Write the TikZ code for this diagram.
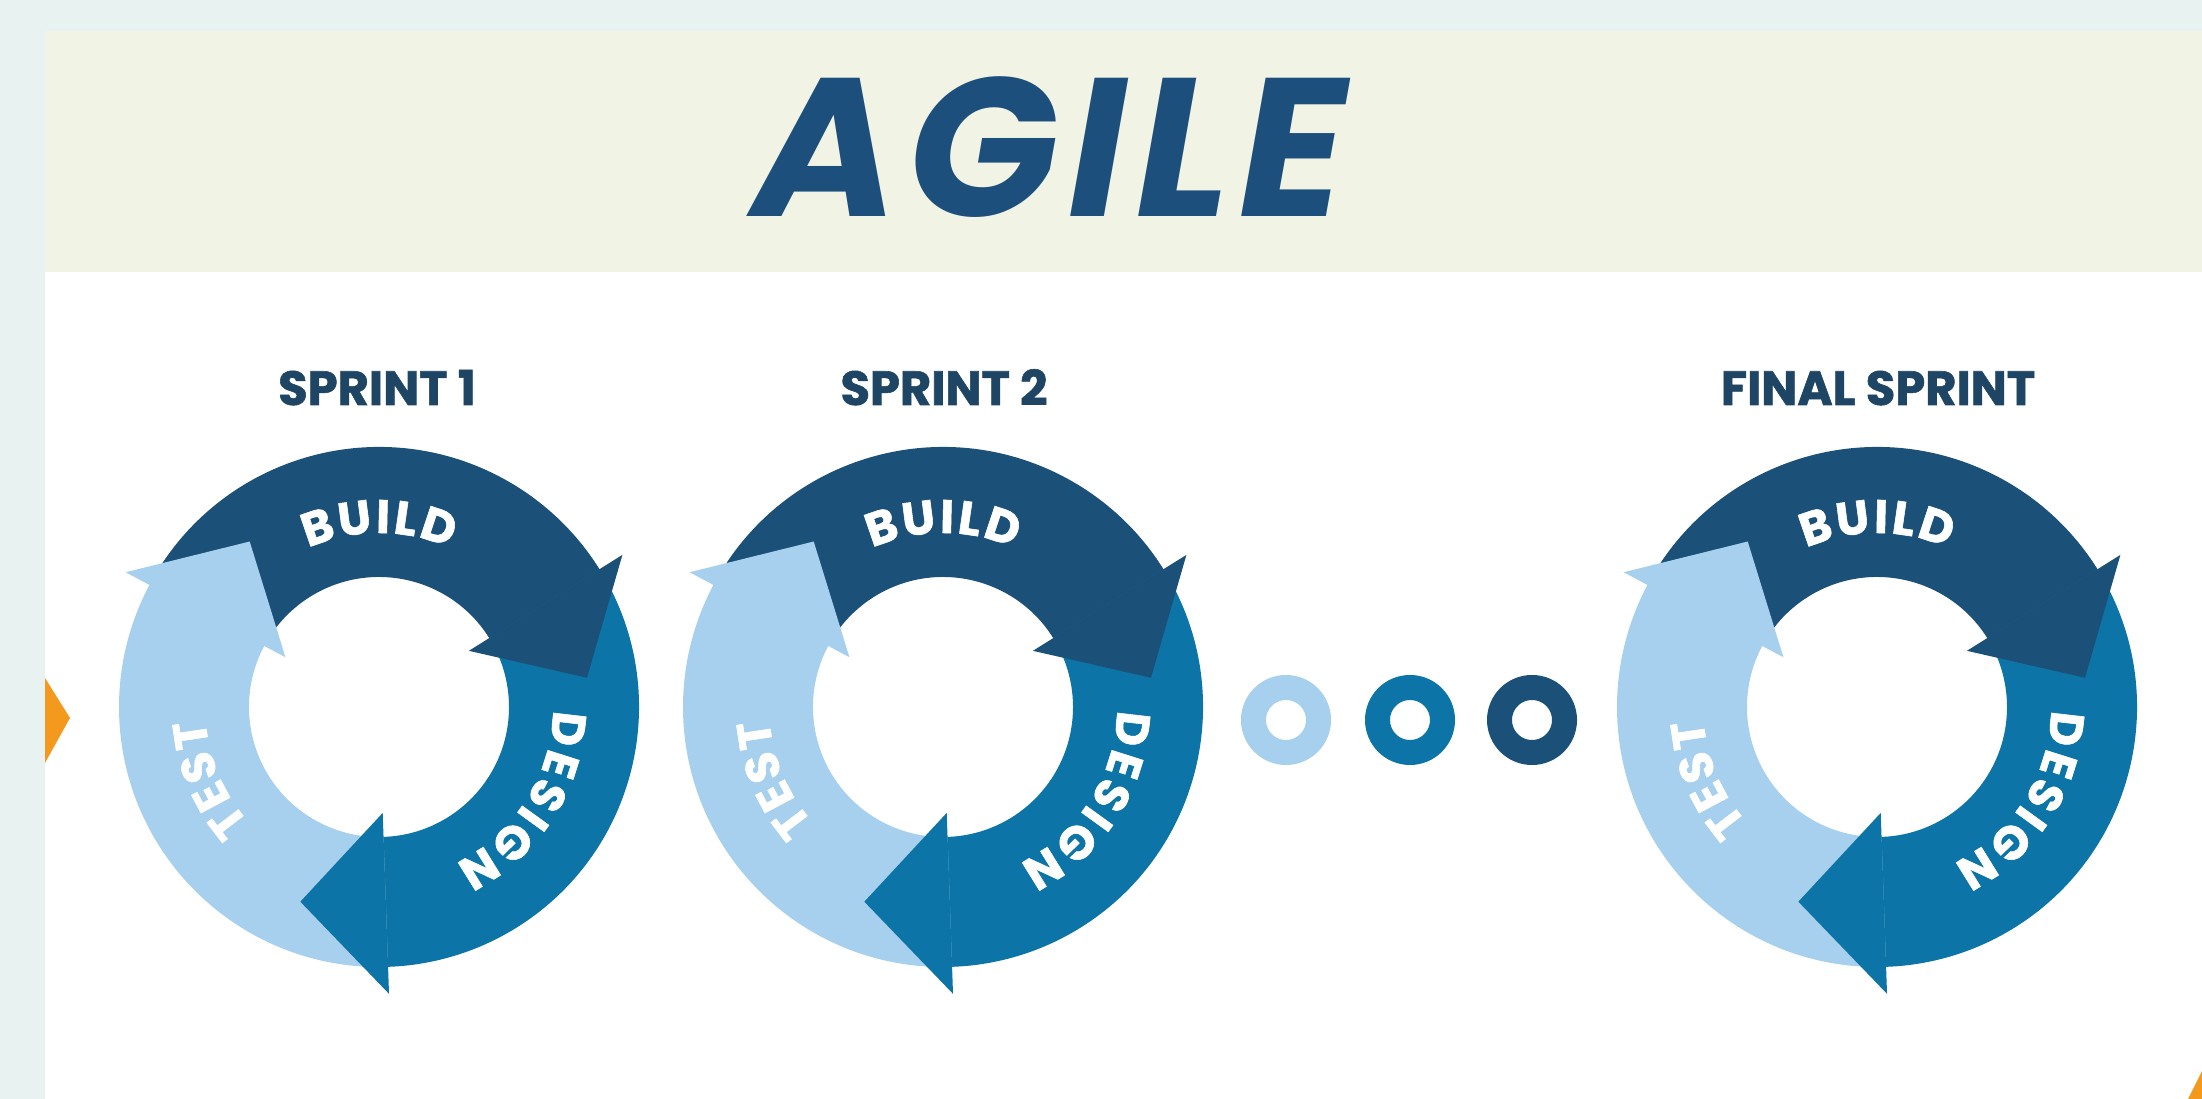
\documentclass[tikz,border=0pt]{standalone}
\usepackage{fontspec}
\newfontfamily\popfont{Poppins}[BoldFeatures={FakeBold=1.2}]
\newfontfamily\agilefont{Poppins}[LetterSpace=5]
\usetikzlibrary{decorations.text}
\definecolor{marginc}{HTML}{E8F2F1}
\definecolor{headc}{HTML}{F1F4E5}
\definecolor{buildc}{HTML}{1B5079}
\definecolor{designc}{HTML}{0C74A6}
\definecolor{testc}{HTML}{A6D0EE}
\definecolor{titlec}{HTML}{1C4F7C}
\definecolor{labelc}{HTML}{1E4664}
\definecolor{orangec}{HTML}{F39A1E}
\newcommand\arcfont{\popfont\bfseries\fontsize{47}{47}\selectfont}
\tikzset{
  sprintlabel/.style={font=\popfont\bfseries\fontsize{48}{48}\selectfont, text=labelc, anchor=base, inner sep=0pt},
  arctext/.style={decorate, decoration={text along path, text align={fit to path}, text color=white, text={|\arcfont|#1}}},
  dotring/.style={line width=25pt},
  sprintcycle/.pic={
    % bands
    \fill[buildc] (152:260) arc[start angle=152,end angle=31,radius=260] -- (31:130) arc[start angle=31,end angle=152,radius=130] -- cycle;
    \fill[designc] (32:260) arc[start angle=32,end angle=-89,radius=260] -- (-89:130) arc[start angle=-89,end angle=32,radius=130] -- cycle;
    \fill[testc] (-88:260) arc[start angle=-88,end angle=-209,radius=260] -- (-209:130) arc[start angle=-209,end angle=-88,radius=130] -- cycle;
    % heads
    \fill[buildc] (32:287) -- (8:210) -- (32:106) -- cycle;
    \fill[designc] (-88:287) -- (-112:210) -- (-88:106) -- cycle;
    \fill[testc] (152:287) -- (128:210) -- (152:106) -- cycle;
    % labels
    \path[arctext=BUILD] (114:174) arc[start angle=114,end angle=66,radius=174];
    \path[arctext=DESIGN] (-1:174) arc[start angle=-1,end angle=-64,radius=174];
    \path[arctext=TEST] (222:174) arc[start angle=222,end angle=184,radius=174];
  }
}
\begin{document}
\begin{tikzpicture}[x=1pt,y=1pt]
\useasboundingbox (0,0) rectangle (2202,1099);
\fill[marginc] (0,0) rectangle (2202,1099);
\fill[headc] (45,827) rectangle (2202,1068);
\fill[white] (45,0) rectangle (2202,827);
\fill[orangec] (45,421) -- (70,381) -- (45,336) -- cycle;
\fill[orangec] (2188,0) -- (2202,28) -- (2202,0) -- cycle;

\node[font=\agilefont\bfseries\itshape\fontsize{197}{197}\selectfont, text=titlec, anchor=base, inner sep=0pt] (title) at (1050,882) {AGILE};

\node[sprintlabel] (l1) at (377,694) {SPRINT 1};
\node[sprintlabel] (l2) at (944,694) {SPRINT 2};
\node[sprintlabel] (l3) at (1878,694) {FINAL SPRINT};

\pic (s1) at (379,392) {sprintcycle};
\pic (s2) at (943,392) {sprintcycle};
\pic (s3) at (1877,392) {sprintcycle};

\draw[testc, dotring] (1286,379) circle[radius=32.5];
\draw[designc, dotring] (1410,379) circle[radius=32.5];
\draw[buildc, dotring] (1532,379) circle[radius=32.5];
\end{tikzpicture}
\end{document}
